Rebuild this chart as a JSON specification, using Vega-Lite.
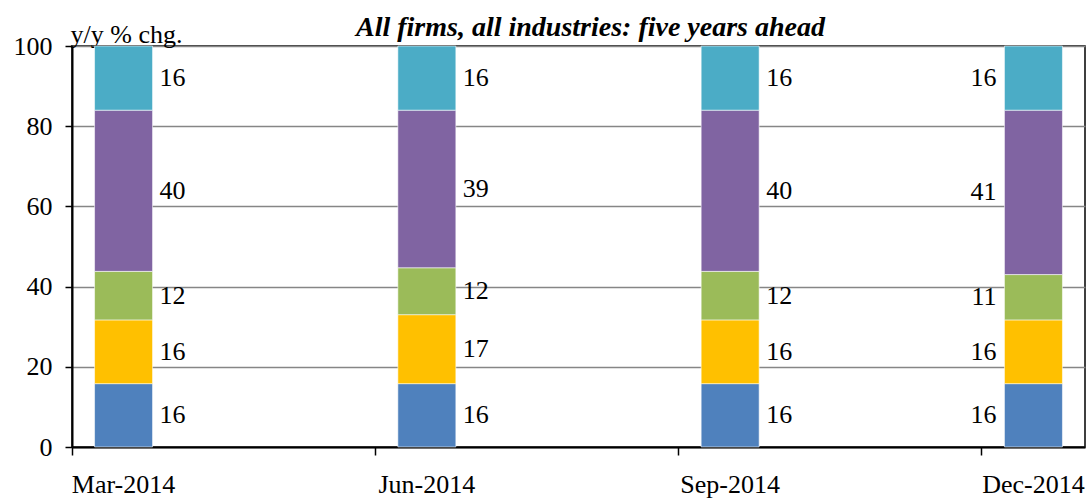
{
  "$schema": "https://vega.github.io/schema/vega-lite/v6.json",
  "width": 1013,
  "height": 401,
  "autosize": {"type": "none"},
  "padding": {"left": 72, "top": 46, "right": 4, "bottom": 51},
  "background": "white",
  "config": {
    "font": "serif",
    "view": {"stroke": "black", "strokeWidth": 1.5}
  },
  "title": {
    "text": "All firms, all industries: five years ahead",
    "font": "serif",
    "fontSize": 28,
    "fontWeight": "bold",
    "fontStyle": "italic",
    "color": "black",
    "anchor": "middle",
    "frame": "group",
    "offset": 11,
    "baseline": "alphabetic",
    "dx": 12,
    "dy": 54
  },
  "data": {
    "values": [
      {"date": "Mar-2014", "series": "A", "order": 1, "value": 15.8},
      {"date": "Mar-2014", "series": "B", "order": 2, "value": 15.9},
      {"date": "Mar-2014", "series": "C", "order": 3, "value": 12.1},
      {"date": "Mar-2014", "series": "D", "order": 4, "value": 40.2},
      {"date": "Mar-2014", "series": "E", "order": 5, "value": 16.0},
      {"date": "Jun-2014", "series": "A", "order": 1, "value": 15.8},
      {"date": "Jun-2014", "series": "B", "order": 2, "value": 17.2},
      {"date": "Jun-2014", "series": "C", "order": 3, "value": 11.7},
      {"date": "Jun-2014", "series": "D", "order": 4, "value": 39.3},
      {"date": "Jun-2014", "series": "E", "order": 5, "value": 16.0},
      {"date": "Sep-2014", "series": "A", "order": 1, "value": 15.8},
      {"date": "Sep-2014", "series": "B", "order": 2, "value": 15.9},
      {"date": "Sep-2014", "series": "C", "order": 3, "value": 12.1},
      {"date": "Sep-2014", "series": "D", "order": 4, "value": 40.2},
      {"date": "Sep-2014", "series": "E", "order": 5, "value": 16.0},
      {"date": "Dec-2014", "series": "A", "order": 1, "value": 15.8},
      {"date": "Dec-2014", "series": "B", "order": 2, "value": 15.9},
      {"date": "Dec-2014", "series": "C", "order": 3, "value": 11.3},
      {"date": "Dec-2014", "series": "D", "order": 4, "value": 41.0},
      {"date": "Dec-2014", "series": "E", "order": 5, "value": 16.0}
    ]
  },
  "transform": [
    {"stack": "value", "groupby": ["date"], "sort": [{"field": "order", "order": "ascending"}], "as": ["v0", "v1"]},
    {"calculate": "(datum.v0 + datum.v1) / 2", "as": "mid"}
  ],
  "encoding": {
    "x": {
      "field": "date",
      "type": "nominal",
      "sort": ["Mar-2014", "Jun-2014", "Sep-2014", "Dec-2014"],
      "scale": {"domain": ["Mar-2014", "Jun-2014", "Sep-2014", "Dec-2014"], "paddingInner": 0.66, "paddingOuter": 0},
      "axis": {
        "title": null,
        "labelAngle": 0,
        "labelFont": "serif",
        "labelFontSize": 26,
        "labelColor": "black",
        "labelPadding": 16,
        "bandPosition": 0,
        "domainColor": "black",
        "domainWidth": 2,
        "tickColor": "black",
        "tickWidth": 1.5,
        "tickSize": 8,
        "grid": false
      }
    }
  },
  "layer": [
    {
      "mark": {"type": "bar", "size": 58, "stroke": "white", "strokeWidth": 0.8, "strokeOpacity": 0.7},
      "encoding": {
        "y": {
          "field": "v0",
          "type": "quantitative",
          "scale": {"domain": [0, 100], "nice": false},
          "axis": {
            "values": [0, 20, 40, 60, 80, 100],
            "grid": true,
            "gridColor": "#868686",
            "gridWidth": 1.5,
            "domainColor": "black",
            "domainWidth": 2,
            "tickColor": "black",
            "tickWidth": 1.5,
            "tickSize": 7,
            "labelFont": "serif",
            "labelFontSize": 26,
            "labelColor": "black",
            "labelPadding": 13,
            "title": "y/y % chg.",
            "titleFont": "serif",
            "titleAngle": 0,
            "titleAlign": "left",
            "titleBaseline": "alphabetic",
            "titleX": -2,
            "titleY": -4,
            "titleFontSize": 26,
            "titleFontWeight": "normal",
            "titleColor": "black"
          }
        },
        "y2": {"field": "v1"},
        "color": {
          "field": "series",
          "type": "nominal",
          "scale": {"domain": ["A", "B", "C", "D", "E"], "range": ["#4F81BD", "#FFC000", "#9BBB59", "#8064A2", "#4BACC6"]},
          "legend": null
        }
      }
    },
    {
      "transform": [{"filter": "datum.date != 'Dec-2014'"}],
      "mark": {"type": "text", "align": "left", "baseline": "middle", "dx": 36, "fontSize": 26, "color": "black", "font": "serif"},
      "encoding": {
        "y": {"field": "mid", "type": "quantitative"},
        "text": {"field": "value", "type": "quantitative", "format": ".0f"}
      }
    },
    {
      "transform": [{"filter": "datum.date == 'Dec-2014'"}],
      "mark": {"type": "text", "align": "right", "baseline": "middle", "dx": -37, "fontSize": 26, "color": "black", "font": "serif"},
      "encoding": {
        "y": {"field": "mid", "type": "quantitative"},
        "text": {"field": "value", "type": "quantitative", "format": ".0f"}
      }
    }
  ]
}
